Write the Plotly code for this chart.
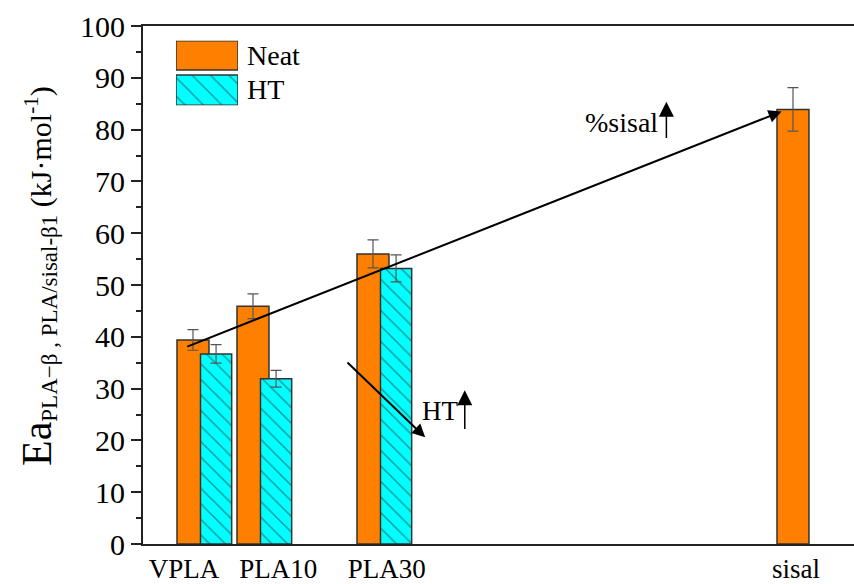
import plotly.graph_objects as go

# ---- data ----
categories = ["VPLA", "PLA10", "PLA30", "sisal"]
sisal_pct = [0, 10, 30, 100]              # x position (% sisal)
neat_vals = [39.4, 45.9, 56.0, 83.9]
neat_err = [2.0, 2.4, 2.7, 4.2]
ht_cats_pct = [0, 10, 30]
ht_vals = [36.7, 31.9, 53.2]
ht_err = [1.8, 1.6, 2.6]

FONT = "Liberation Serif"
ORANGE = "#FF8000"
CYAN = "#00FFFF"
EDGE = "#333333"

fig = go.Figure()

bar_w = 5.33
fig.add_trace(go.Bar(
    x=sisal_pct, y=neat_vals, width=bar_w, offset=-bar_w / 2,
    marker=dict(color=ORANGE, line=dict(color=EDGE, width=1.5)),
    error_y=dict(type="data", array=neat_err, color="#555555", thickness=1.2, width=5.5),
    showlegend=False, name="Neat",
))
fig.add_trace(go.Bar(
    x=ht_cats_pct, y=ht_vals, width=5.2, offset=1.25,
    marker=dict(color=CYAN, line=dict(color=EDGE, width=1.5),
                pattern=dict(shape="\\", size=11, solidity=0.12,
                             fgcolor="#222222", bgcolor=CYAN)),
    error_y=dict(type="data", array=ht_err, color="#555555", thickness=1.2, width=5.5),
    showlegend=False, name="HT",
))

# legend patches drawn on a hidden helper axis
fig.add_trace(go.Bar(
    x=[0.5], y=[30], base=[36], width=[1], xaxis="x2", yaxis="y2",
    marker=dict(color=ORANGE, line=dict(color=EDGE, width=1.5)), showlegend=False,
    hoverinfo="skip",
))
fig.add_trace(go.Bar(
    x=[0.5], y=[31], base=[0], width=[1], xaxis="x2", yaxis="y2",
    marker=dict(color=CYAN, line=dict(color=EDGE, width=1.5),
                pattern=dict(shape="\\", size=13, solidity=0.1,
                             fgcolor="#222222", bgcolor=CYAN)),
    showlegend=False, hoverinfo="skip",
))

tick_pos = [-1.5, 14.2, 32.3, 100.5]

annotations = []
# y-axis title
annotations.append(dict(
    xref="paper", yref="paper", x=-0.148, y=0.517, xanchor="center", yanchor="middle",
    textangle=-90, showarrow=False,
    text='<span style="font-size:42px">Ea</span><sub><span style="font-size:23px">PLA\u2212\u03b2 , PLA/sisal-\u03b21</span></sub>'
         ' (kJ\u00b7mol<sup>-1</sup>)',
    font=dict(family=FONT, size=30, color="black"),
))
# legend texts
annotations.append(dict(xref="paper", yref="paper", x=0.1435, y=0.9433, xanchor="left", yanchor="middle",
                        text="Neat", showarrow=False, font=dict(family=FONT, size=28, color="black")))
annotations.append(dict(xref="paper", yref="paper", x=0.1435, y=0.877, xanchor="left", yanchor="middle",
                        text="HT", showarrow=False, font=dict(family=FONT, size=28, color="black")))
# long arrow (%sisal trend)
annotations.append(dict(
    x=sisal_pct[3] - 1.9, y=neat_vals[3] - 0.4, ax=sisal_pct[0] - 1.2, ay=neat_vals[0] - 1.4,
    xref="x", yref="y", axref="x", ayref="y", text="", showarrow=True,
    arrowhead=2, arrowsize=1.3, arrowwidth=2, arrowcolor="black",
))
# HT arrow
annotations.append(dict(
    x=38.7, y=20.6, ax=25.5, ay=35.3,
    xref="x", yref="y", axref="x", ayref="y", text="", showarrow=True,
    arrowhead=2, arrowsize=1.3, arrowwidth=2, arrowcolor="black",
))
# texts
annotations.append(dict(x=71.5, y=81.3, xref="x", yref="y", text="%sisal", showarrow=False,
                        font=dict(family=FONT, size=28, color="black")))
annotations.append(dict(x=41.1, y=25.6, xref="x", yref="y", text="HT", showarrow=False,
                        font=dict(family=FONT, size=27, color="black")))
# small up arrows
annotations.append(dict(x=78.9, y=85.4, ax=78.9, ay=78.1, xref="x", yref="y", axref="x", ayref="y",
                        text="", showarrow=True, arrowhead=2, arrowsize=2, arrowwidth=1.5,
                        arrowcolor="black"))
annotations.append(dict(x=45.3, y=29.7, ax=45.3, ay=21.9, xref="x", yref="y", axref="x", ayref="y",
                        text="", showarrow=True, arrowhead=2, arrowsize=2, arrowwidth=1.5,
                        arrowcolor="black"))

fig.update_layout(
    width=854, height=584,
    margin=dict(l=143, r=0, t=26, b=29),
    plot_bgcolor="white", paper_bgcolor="white",
    barmode="overlay",
    font=dict(family=FONT, color="black"),
    xaxis=dict(
        range=[-8.33, 110.17], showline=True, linecolor="#222222", linewidth=2, mirror=True,
        ticks="", tickvals=tick_pos, ticktext=categories,
        tickfont=dict(family=FONT, size=27, color="black"),
        showgrid=False, zeroline=False,
    ),
    yaxis=dict(
        range=[0, 100], dtick=10, tick0=0, showline=True, linecolor="#222222", linewidth=2,
        ticks="outside", ticklen=10, tickwidth=2, tickcolor="#222222",
        minor=dict(dtick=5, ticks="outside", ticklen=5, tickwidth=1.5, tickcolor="#222222"),
        tickfont=dict(family=FONT, size=30, color="black"),
        showgrid=False, zeroline=False,
    ),
    xaxis2=dict(domain=[0.0464, 0.1336], range=[0, 1], visible=False, anchor="y2", fixedrange=True),
    yaxis2=dict(domain=[0.8469, 0.9716], range=[0, 66], visible=False, anchor="x2", fixedrange=True),
    annotations=annotations,
)

fig.write_html("out.html")
